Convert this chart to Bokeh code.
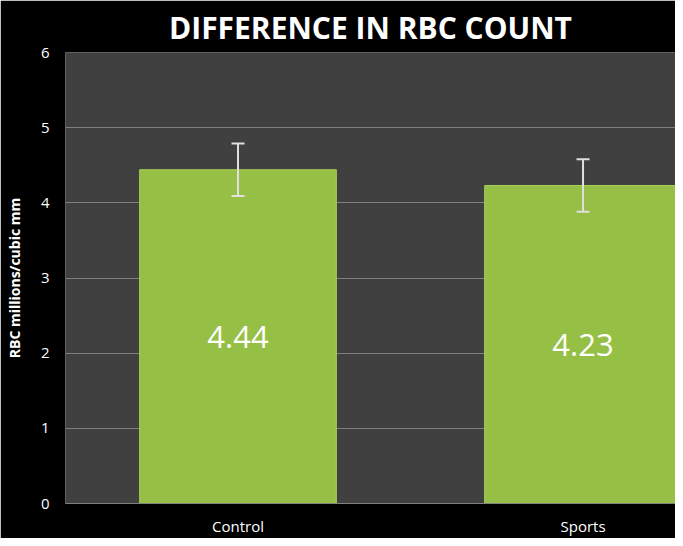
from bokeh.plotting import figure
from bokeh.models import Range1d, FixedTicker, Whisker, ColumnDataSource, LabelSet, TeeHead
from bokeh.core.properties import value
from bokeh.embed import file_html
from bokeh.resources import INLINE

# ---- data ----
categories = ["Control", "Sports"]
means = [4.44, 4.23]
errors = [0.35, 0.35]
value_labels = ["4.44", "4.23"]
y_ticks = [0, 1, 2, 3, 4, 5, 6]
title_text = "DIFFERENCE IN RBC COUNT"

x_pos = [i + 0.5 for i in range(len(categories))]
source = ColumnDataSource(dict(
    x=x_pos,
    top=means,
    upper=[m + e for m, e in zip(means, errors)],
    lower=[m - e for m, e in zip(means, errors)],
    mid=[m / 2 for m in means],
    label=value_labels,
))

FONT = "Open Sans"
X_END = 1.768
Y_END = 6

p = figure(width=675, height=538,
           x_range=Range1d(0, X_END), y_range=Range1d(0, Y_END),
           output_backend="svg", toolbar_location=None,
           min_border_left=65, min_border_right=0,
           min_border_bottom=33, min_border_top=51)

p.background_fill_color = "#404040"
p.border_fill_color = "black"
p.outline_line_color = None

p.title.text = title_text
p.title.align = "center"
p.title.text_color = "white"
p.title.text_font = FONT
p.title.text_font_style = "bold"
p.title.text_font_size = "30px"
p.title.standoff = 9

p.vbar(x="x", top="top", bottom=0, width=0.57, source=source,
       fill_color="#96bf46", line_color="#aad257", line_width=1)

head_kw = dict(size=13, line_color="#e0e0e0", line_width=2)
whisker = Whisker(source=source, base="x", upper="upper", lower="lower",
                  line_color="#e0e0e0", line_width=2, level="overlay",
                  upper_head=TeeHead(**head_kw), lower_head=TeeHead(**head_kw))
p.add_layout(whisker)

labels = LabelSet(x="x", y="mid", text="label", source=source,
                  text_align="center", text_baseline="middle",
                  text_color="white", text_font=value(FONT), text_font_size="31px")
p.add_layout(labels)

# grid
p.xgrid.grid_line_color = None
p.ygrid.ticker = FixedTicker(ticks=y_ticks)
p.ygrid.grid_line_color = "#808080"
p.ygrid.grid_line_width = 1

# x axis
p.xaxis.ticker = FixedTicker(ticks=x_pos)
p.xaxis.major_label_overrides = {xv: c for xv, c in zip(x_pos, categories)}
p.xaxis.axis_line_color = "#808080"
p.xaxis.major_tick_line_color = None
p.xaxis.major_tick_out = 0
p.xaxis.major_tick_in = 0
p.xaxis.minor_tick_line_color = None
p.xaxis.minor_tick_out = 0
p.xaxis.major_label_standoff = 12
p.xaxis.major_label_text_color = "white"
p.xaxis.major_label_text_font = FONT
p.xaxis.major_label_text_font_size = "15px"

# y axis
p.yaxis.ticker = FixedTicker(ticks=y_ticks)
p.yaxis.axis_line_color = None
p.yaxis.major_tick_line_color = None
p.yaxis.major_tick_out = 0
p.yaxis.major_tick_in = 0
p.yaxis.minor_tick_line_color = None
p.yaxis.minor_tick_out = 0
p.yaxis.major_label_standoff = 16
p.yaxis.major_label_text_color = "white"
p.yaxis.major_label_text_font = FONT
p.yaxis.major_label_text_font_size = "15px"
p.yaxis.axis_label = "RBC millions/cubic mm"
p.yaxis.axis_label_text_color = "white"
p.yaxis.axis_label_text_font = FONT
p.yaxis.axis_label_text_font_style = "bold"
p.yaxis.axis_label_text_font_size = "14px"
p.yaxis.axis_label_standoff = 14

open("out.html", "w").write(file_html(p, INLINE))
